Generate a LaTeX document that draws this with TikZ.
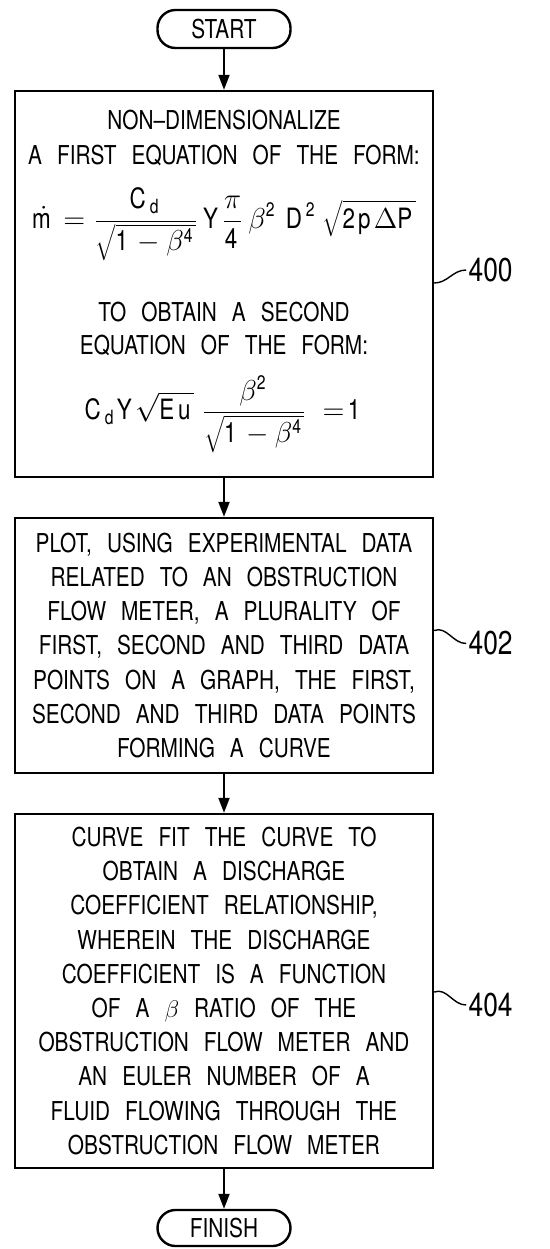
\documentclass[tikz,border=0pt]{standalone}
\usepackage{fontspec}
\setmainfont{TeX Gyre Heros}[FakeStretch=0.8, WordSpace=2.6]
\usetikzlibrary{arrows.meta,positioning,calc}
\definecolor{ink}{HTML}{000000}
\newcommand{\stepfont}{\fontsize{13}{17.1}\selectfont}
\newcommand{\mathfont}{\fontsize{14}{17.1}\selectfont}
\newcommand{\reffont}{\fontsize{16.5}{18}\selectfont}
\newcommand{\radroot}[1]{\sqrt{\rule[-5pt]{0pt}{17pt}#1}}
\tikzset{
  stepbox/.style={
    rectangle, draw=ink, line width=1.2pt, text=ink,
    font=\stepfont, align=center,
    minimum width=209pt, inner sep=0pt
  },
  termbox/.style={
    rectangle, rounded corners=9pt, draw=ink, line width=1.2pt,
    text=ink, font=\stepfont,
    minimum width=66.5pt, minimum height=19pt, inner sep=0pt
  },
  flowarrow/.style={
    -{Triangle[length=7.5pt, width=5.5pt]}, line width=1pt, draw=ink
  },
  leader/.style={line width=0.7pt, draw=ink},
  reflabel/.style={font=\reffont, text=ink, inner sep=1pt, anchor=west}
}

\begin{document}
\begin{tikzpicture}[node distance=19.3pt]
    \useasboundingbox (0,0) rectangle (275pt,-624.5pt);
    \node[termbox] (start) at (112pt,-14.5pt) {START};
    \node[stepbox, minimum height=193pt, below=20.3pt of start] (s400) {NON--DIMENSIONALIZE\\[0.4pt]
      A FIRST EQUATION OF THE FORM:\\[14.65pt]
      \smash{\mathfont$\displaystyle \dot{\mathrm{m}}=\frac{\mathrm{C}_{\mathrm{d}}}{\radroot{\mathrm{1}-\beta^{\mathrm{4}}}}\,\mathrm{Y}\frac{\pi}{\mathrm{4}}\,\beta^{\mathrm{2}}\;\mathrm{D}^{\mathrm{2}}\,\sqrt{\mathrm{2p}\Delta\mathrm{P}}$}\\[29.65pt]
      TO OBTAIN A SECOND\\[-0.6pt]
      EQUATION OF THE FORM:\\[15.4pt]
      \smash{\mathfont$\displaystyle \mathrm{C}_{\mathrm{d}}\mathrm{Y}\sqrt{\mathrm{Eu}}\;\frac{\beta^{\mathrm{2}}}{\radroot{\mathrm{1}-\beta^{\mathrm{4}}}}\;=\!\mathrm{1}$}\rule[-18.9pt]{0pt}{18.9pt}};
    \node[stepbox, minimum height=127.5pt, below=of s400] (s402) {PLOT, USING EXPERIMENTAL DATA\\
      RELATED TO AN OBSTRUCTION\\
      FLOW METER, A PLURALITY OF\\
      FIRST, SECOND AND THIRD DATA\\
      POINTS ON A GRAPH, THE FIRST,\\
      SECOND AND THIRD DATA POINTS\\
      FORMING A CURVE};
    \node[stepbox, minimum height=177pt, below=of s402] (s404) {CURVE FIT THE CURVE TO\\
      OBTAIN A DISCHARGE\\
      COEFFICIENT RELATIONSHIP,\\
      WHEREIN THE DISCHARGE\\
      COEFFICIENT IS A FUNCTION\\
      OF A $\beta$ RATIO OF THE\\
      OBSTRUCTION FLOW METER AND\\
      AN EULER NUMBER OF A\\
      FLUID FLOWING THROUGH THE\\
      OBSTRUCTION FLOW METER};
    \node[termbox, minimum height=18pt, below=19.8pt of s404] (finish) {FINISH};

    \draw[flowarrow] (start) -- (s400);
    \draw[flowarrow] (s400) -- (s402);
    \draw[flowarrow] (s402) -- (s404);
    \draw[flowarrow] (s404) -- (finish);

    \node[reflabel] (l400) at ($(s400.east)+(16pt,7pt)$) {400};
    \node[reflabel] (l402) at ($(s402.east)+(16pt,1pt)$) {402};
    \node[reflabel] (l404) at ($(s404.east)+(16pt,-7pt)$) {404};
    \draw[leader] ($(s400.east)+(0,0.5pt)$) to[out=0, in=180] (l400.west);
    \draw[leader] ($(s402.east)+(0,7.5pt)$) to[out=20, in=180] (l402.west);
    \draw[leader] ($(s404.east)+(0,-0.5pt)$) to[out=20, in=180] (l404.west);
\end{tikzpicture}
\end{document}
